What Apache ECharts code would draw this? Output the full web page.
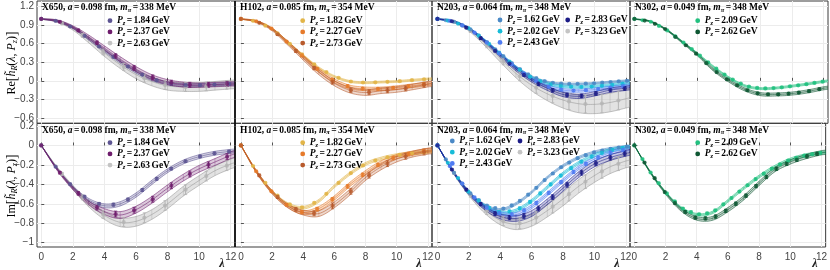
<!DOCTYPE html>
<html><head><meta charset="utf-8">
<script src="https://cdn.jsdelivr.net/npm/echarts@6/dist/echarts.min.js"></script>
<style>html,body{margin:0;padding:0;background:#fff}#c{width:830px;height:270px}</style>
</head><body><div id="c"></div>
<script>
// ---------------- DATA ----------------
const X_TICKS = [0, 2, 4, 6, 8, 10, 12];
const RE_TICKS = [-0.6, -0.3, 0, 0.3, 0.6, 0.9, 1.2];
const IM_TICKS = [-1, -0.8, -0.6, -0.4, -0.2, 0, 0.2];
const BAND_LAM = [0, 1, 2, 3, 4, 5, 6, 7, 8, 9, 10, 11, 12, 12.3];

const ENS_NAMES = ['X650', 'H102', 'N203', 'N302'];
const ENS_A = ['0.098', '0.085', '0.064', '0.049'];
const ENS_MPI = ['338', '354', '348', '348'];
const MOM_X650 = ['1.84', '2.37', '2.63'];
const MOM_H102 = ['1.82', '2.27', '2.73'];
const MOM_N203 = ['1.62', '2.02', '2.43', '2.83', '3.23'];
const MOM_N302 = ['2.09', '2.62'];

// X650
const LAM_X650_184 = [0,0.91,1.83,2.74,3.66,4.57,5.49,6.40,7.31,8.23,9.14,10.06,10.97,11.89];
const LAM_X650_237 = [0,1.18,2.35,3.53,4.71,5.88,7.06,8.24,9.41,10.59,11.77];
const LAM_X650_263 = [0,1.31,2.61,3.92,5.22,6.53,7.84,9.14,10.45,11.75];
const RE_X650_184 = [1.00,0.968,0.878,0.727,0.555,0.387,0.232,0.102,0.008,-0.047,-0.07,-0.07,-0.06,-0.05];
const RE_ERR_X650_184 = [0.003,0.006,0.01,0.012,0.015,0.015,0.015,0.015,0.015,0.015,0.015,0.015,0.015,0.015];
const RE_X650_237 = [1,0.952,0.814,0.615,0.402,0.209,0.055,-0.03,-0.064,-0.064,-0.052];
const RE_ERR_X650_237 = [0.005,0.01,0.02,0.03,0.035,0.04,0.04,0.04,0.04,0.04,0.04];
const RE_X650_263 = [1,0.929,0.734,0.467,0.225,0.042,-0.069,-0.10,-0.091,-0.065];
const RE_ERR_X650_263 = [0.005,0.015,0.03,0.045,0.055,0.065,0.07,0.07,0.07,0.07];
const IM_X650_184 = [0,-0.218,-0.398,-0.526,-0.60,-0.609,-0.556,-0.458,-0.343,-0.239,-0.162,-0.113,-0.081,-0.062];
const IM_ERR_X650_184 = [0,0.006,0.008,0.01,0.012,0.015,0.015,0.015,0.015,0.012,0.012,0.012,0.012,0.012];
const IM_X650_237 = [0,-0.28,-0.493,-0.638,-0.705,-0.666,-0.553,-0.414,-0.293,-0.199,-0.116];
const IM_ERR_X650_237 = [0,0.012,0.018,0.025,0.03,0.03,0.03,0.03,0.03,0.03,0.03];
const IM_X650_263 = [0,-0.292,-0.534,-0.71,-0.788,-0.743,-0.618,-0.455,-0.315,-0.208];
const IM_ERR_X650_263 = [0,0.015,0.025,0.04,0.045,0.05,0.05,0.05,0.05,0.05];
const RE_BAND_X650_184 = [1.00,0.965,0.86,0.68,0.49,0.31,0.15,0.03,-0.04,-0.07,-0.07,-0.06,-0.05,-0.045];
const RE_HW_X650_184 = [0.003,0.01,0.015,0.02,0.022,0.024,0.025,0.025,0.025,0.025,0.025,0.025,0.025,0.025];
const RE_BAND_X650_237 = [1,0.97,0.87,0.71,0.53,0.35,0.19,0.06,-0.02,-0.06,-0.07,-0.06,-0.05,-0.05];
const RE_HW_X650_237 = [0.003,0.015,0.02,0.03,0.035,0.04,0.04,0.04,0.04,0.04,0.035,0.035,0.035,0.035];
const RE_BAND_X650_263 = [1,0.965,0.85,0.66,0.45,0.26,0.10,-0.01,-0.08,-0.10,-0.10,-0.08,-0.06,-0.055];
const RE_HW_X650_263 = [0.005,0.015,0.03,0.045,0.055,0.06,0.065,0.07,0.07,0.07,0.07,0.07,0.07,0.07];
const IM_BAND_X650_184 = [0,-0.24,-0.43,-0.56,-0.62,-0.60,-0.51,-0.38,-0.26,-0.17,-0.115,-0.08,-0.06,-0.055];
const IM_HW_X650_184 = [0,0.008,0.012,0.016,0.02,0.022,0.022,0.022,0.02,0.02,0.02,0.02,0.02,0.02];
const IM_BAND_X650_237 = [0,-0.245,-0.44,-0.59,-0.68,-0.715,-0.66,-0.56,-0.44,-0.33,-0.24,-0.17,-0.10,-0.085];
const IM_HW_X650_237 = [0,0.01,0.015,0.02,0.03,0.035,0.035,0.035,0.035,0.035,0.035,0.035,0.035,0.035];
const IM_BAND_X650_263 = [0,-0.23,-0.43,-0.60,-0.72,-0.79,-0.78,-0.71,-0.60,-0.47,-0.36,-0.26,-0.19,-0.175];
const IM_HW_X650_263 = [0,0.01,0.02,0.03,0.04,0.045,0.05,0.05,0.05,0.05,0.05,0.05,0.05,0.05];

// H102
const LAM_H102_182 = [0,0.78,1.57,2.35,3.14,3.92,4.71,5.49,6.27,7.06,7.84,8.63,9.41,10.20,10.98,11.76];
const LAM_H102_227 = [0,0.98,1.96,2.93,3.91,4.89,5.87,6.85,7.82,8.80,9.78,10.76,11.74];
const LAM_H102_273 = [0,1.18,2.35,3.53,4.70,5.88,7.06,8.23,9.41,10.58,11.76];
const RE_H102_182 = [1,0.969,0.892,0.767,0.599,0.428,0.268,0.141,0.048,-0.011,-0.027,-0.024,-0.016,-0.006,0.010,0.025];
const RE_ERR_H102_182 = [0.003,0.005,0.006,0.008,0.01,0.01,0.01,0.01,0.01,0.01,0.01,0.01,0.01,0.01,0.01,0.01];
const RE_H102_227 = [1,0.961,0.845,0.635,0.411,0.194,0.022,-0.085,-0.125,-0.13,-0.114,-0.087,-0.058];
const RE_ERR_H102_227 = [0.003,0.008,0.012,0.015,0.02,0.02,0.02,0.02,0.02,0.02,0.02,0.02,0.02];
const RE_H102_273 = [1,0.937,0.753,0.483,0.209,-0.018,-0.152,-0.183,-0.152,-0.123,-0.064];
const RE_ERR_H102_273 = [0.005,0.012,0.02,0.025,0.03,0.035,0.035,0.04,0.04,0.04,0.04];
const IM_H102_182 = [0,-0.211,-0.384,-0.516,-0.606,-0.637,-0.59,-0.497,-0.385,-0.284,-0.206,-0.155,-0.121,-0.096,-0.08,-0.069];
const IM_ERR_H102_182 = [0,0.005,0.006,0.007,0.008,0.008,0.008,0.008,0.008,0.008,0.008,0.008,0.008,0.008,0.008,0.008];
const IM_H102_227 = [0,-0.265,-0.472,-0.61,-0.684,-0.654,-0.554,-0.421,-0.302,-0.20,-0.129,-0.088,-0.058];
const IM_ERR_H102_227 = [0,0.008,0.01,0.012,0.015,0.018,0.018,0.018,0.018,0.018,0.018,0.018,0.018];
const IM_H102_273 = [0,-0.308,-0.529,-0.657,-0.697,-0.621,-0.471,-0.305,-0.187,-0.111,-0.067];
const IM_ERR_H102_273 = [0,0.012,0.016,0.02,0.025,0.03,0.03,0.03,0.03,0.03,0.03];
const RE_BAND_H102_182 = [1,0.96,0.84,0.63,0.41,0.21,0.07,-0.01,-0.03,-0.02,-0.01,0.01,0.03,0.035];
const RE_HW_H102_182 = [0.003,0.008,0.01,0.012,0.015,0.015,0.015,0.015,0.015,0.015,0.015,0.015,0.015,0.015];
const RE_BAND_H102_227 = [1,0.96,0.84,0.62,0.39,0.17,0.00,-0.10,-0.13,-0.13,-0.11,-0.08,-0.05,-0.04];
const RE_HW_H102_227 = [0.003,0.01,0.015,0.02,0.025,0.03,0.03,0.03,0.03,0.03,0.03,0.03,0.03,0.03];
const RE_BAND_H102_273 = [1,0.96,0.83,0.61,0.37,0.14,-0.04,-0.15,-0.19,-0.16,-0.14,-0.10,-0.055,-0.045];
const RE_HW_H102_273 = [0.003,0.012,0.02,0.03,0.035,0.04,0.04,0.045,0.045,0.045,0.045,0.045,0.045,0.045];
const IM_BAND_H102_182 = [0,-0.27,-0.47,-0.60,-0.64,-0.57,-0.42,-0.29,-0.19,-0.135,-0.10,-0.08,-0.065,-0.06];
const IM_HW_H102_182 = [0,0.008,0.01,0.012,0.014,0.015,0.015,0.015,0.015,0.015,0.015,0.015,0.015,0.015];
const IM_BAND_H102_227 = [0,-0.27,-0.48,-0.62,-0.69,-0.65,-0.54,-0.40,-0.28,-0.18,-0.115,-0.08,-0.05,-0.045];
const IM_HW_H102_227 = [0,0.01,0.012,0.015,0.02,0.022,0.022,0.022,0.022,0.022,0.022,0.022,0.022,0.022];
const IM_BAND_H102_273 = [0,-0.27,-0.48,-0.62,-0.69,-0.70,-0.61,-0.48,-0.33,-0.22,-0.14,-0.09,-0.06,-0.055];
const IM_HW_H102_273 = [0,0.012,0.016,0.02,0.025,0.03,0.03,0.03,0.03,0.03,0.03,0.03,0.03,0.03];

// N203
const LAM_N203_162 = [0,0.53,1.05,1.58,2.10,2.63,3.15,3.68,4.20,4.73,5.25,5.78,6.30,6.83,7.35,7.88,8.40,8.93,9.45,9.98,10.50,11.03,11.55,12.08];
const LAM_N203_202 = [0,0.66,1.31,1.97,2.62,3.28,3.93,4.59,5.24,5.90,6.55,7.21,7.86,8.52,9.17,9.83,10.48,11.14,11.79];
const LAM_N203_243 = [0,0.79,1.58,2.36,3.15,3.94,4.73,5.52,6.30,7.09,7.88,8.67,9.46,10.24,11.03,11.82];
const LAM_N203_283 = [0,0.92,1.84,2.75,3.67,4.59,5.51,6.43,7.34,8.26,9.18,10.10,11.02,11.93];
const LAM_N203_323 = [0,1.05,2.10,3.14,4.19,5.24,6.29,7.34,8.38,9.43,10.48,11.53];
const RE_N203_162 = [1,0.979,0.955,0.896,0.831,0.730,0.627,0.510,0.398,0.287,0.190,0.105,0.043,-0.005,-0.031,-0.046,-0.05,-0.05,-0.046,-0.04,-0.03,-0.019,-0.009,0.0];
const RE_ERR_N203_162 = [0.002,0.004,0.005,0.006,0.007,0.008,0.008,0.009,0.009,0.01,0.01,0.01,0.01,0.01,0.01,0.01,0.01,0.01,0.01,0.01,0.01,0.01,0.01,0.01];
const RE_N203_202 = [1,0.974,0.926,0.853,0.732,0.598,0.455,0.310,0.179,0.067,-0.005,-0.058,-0.084,-0.095,-0.098,-0.092,-0.08,-0.066,-0.046];
const RE_ERR_N203_202 = [0.002,0.005,0.006,0.008,0.01,0.011,0.012,0.012,0.013,0.013,0.013,0.013,0.013,0.013,0.013,0.013,0.013,0.013,0.013];
const RE_N203_243 = [1,0.968,0.896,0.778,0.617,0.443,0.269,0.116,-0.006,-0.095,-0.143,-0.157,-0.151,-0.133,-0.109,-0.085];
const RE_ERR_N203_243 = [0.003,0.006,0.008,0.01,0.012,0.014,0.015,0.016,0.016,0.016,0.016,0.016,0.016,0.016,0.016,0.016];
const RE_N203_283 = [1,0.963,0.859,0.69,0.486,0.28,0.098,-0.046,-0.154,-0.228,-0.243,-0.204,-0.149,-0.122];
const RE_ERR_N203_283 = [0.003,0.01,0.015,0.02,0.02,0.025,0.025,0.03,0.03,0.03,0.03,0.03,0.03,0.03];
const RE_N203_323 = [1,0.953,0.808,0.575,0.314,0.074,-0.111,-0.244,-0.333,-0.374,-0.366,-0.318];
const RE_ERR_N203_323 = [0.005,0.015,0.025,0.04,0.055,0.07,0.09,0.11,0.13,0.145,0.15,0.15];
const IM_N203_162 = [0,-0.143,-0.281,-0.392,-0.493,-0.562,-0.618,-0.644,-0.648,-0.616,-0.57,-0.506,-0.435,-0.356,-0.288,-0.224,-0.176,-0.131,-0.10,-0.071,-0.053,-0.034,-0.022,-0.012];
const IM_ERR_N203_162 = [0,0.004,0.005,0.006,0.007,0.008,0.008,0.009,0.009,0.01,0.01,0.01,0.01,0.01,0.01,0.01,0.01,0.01,0.01,0.01,0.01,0.01,0.01,0.01];
const IM_N203_202 = [0,-0.178,-0.335,-0.474,-0.567,-0.64,-0.685,-0.678,-0.646,-0.58,-0.493,-0.401,-0.31,-0.233,-0.166,-0.114,-0.076,-0.046,-0.026];
const IM_ERR_N203_202 = [0,0.005,0.006,0.008,0.01,0.011,0.012,0.012,0.013,0.013,0.013,0.013,0.013,0.013,0.013,0.013,0.013,0.013,0.013];
const IM_N203_243 = [0,-0.213,-0.392,-0.534,-0.641,-0.696,-0.707,-0.668,-0.591,-0.487,-0.377,-0.273,-0.189,-0.124,-0.074,-0.046];
const IM_ERR_N203_243 = [0,0.006,0.008,0.01,0.012,0.014,0.015,0.016,0.016,0.016,0.016,0.016,0.016,0.016,0.016,0.016];
const IM_N203_283 = [0,-0.248,-0.455,-0.603,-0.70,-0.742,-0.725,-0.648,-0.532,-0.404,-0.28,-0.184,-0.124,-0.083];
const IM_ERR_N203_283 = [0,0.008,0.012,0.016,0.02,0.022,0.025,0.025,0.025,0.025,0.025,0.025,0.025,0.025];
const IM_N203_323 = [0,-0.281,-0.507,-0.675,-0.778,-0.80,-0.741,-0.629,-0.501,-0.373,-0.267,-0.188];
const IM_ERR_N203_323 = [0,0.015,0.025,0.035,0.045,0.055,0.06,0.065,0.07,0.07,0.07,0.07];
const RE_BAND_N203_162 = [1,0.96,0.85,0.66,0.44,0.23,0.07,-0.02,-0.05,-0.05,-0.04,-0.02,0.0,0.005];
const RE_HW_N203_162 = [0.003,0.006,0.008,0.01,0.012,0.013,0.014,0.015,0.015,0.015,0.015,0.015,0.015,0.015];
const RE_BAND_N203_202 = [1,0.96,0.85,0.66,0.44,0.22,0.05,-0.05,-0.09,-0.10,-0.09,-0.07,-0.04,-0.035];
const RE_HW_N203_202 = [0.003,0.008,0.01,0.013,0.015,0.017,0.018,0.02,0.02,0.02,0.02,0.02,0.02,0.02];
const RE_BAND_N203_243 = [1,0.96,0.85,0.65,0.43,0.21,0.03,-0.09,-0.15,-0.16,-0.14,-0.11,-0.08,-0.07];
const RE_HW_N203_243 = [0.003,0.01,0.012,0.016,0.02,0.022,0.025,0.025,0.025,0.025,0.025,0.025,0.025,0.025];
const RE_BAND_N203_283 = [1,0.96,0.84,0.64,0.41,0.19,0.01,-0.12,-0.22,-0.25,-0.21,-0.15,-0.12,-0.11];
const RE_HW_N203_283 = [0.003,0.012,0.015,0.02,0.025,0.03,0.03,0.035,0.035,0.035,0.035,0.035,0.035,0.035];
const RE_BAND_N203_323 = [1,0.96,0.83,0.61,0.36,0.12,-0.07,-0.21,-0.31,-0.37,-0.38,-0.35,-0.29,-0.27];
const RE_HW_N203_323 = [0.005,0.015,0.025,0.04,0.055,0.07,0.09,0.11,0.13,0.145,0.15,0.15,0.15,0.15];
const IM_BAND_N203_162 = [0,-0.27,-0.48,-0.61,-0.66,-0.60,-0.48,-0.33,-0.21,-0.125,-0.07,-0.035,-0.012,-0.008];
const IM_HW_N203_162 = [0,0.006,0.008,0.01,0.012,0.013,0.013,0.013,0.013,0.013,0.013,0.013,0.013,0.013];
const IM_BAND_N203_202 = [0,-0.27,-0.48,-0.62,-0.69,-0.67,-0.57,-0.43,-0.29,-0.18,-0.10,-0.05,-0.02,-0.015];
const IM_HW_N203_202 = [0,0.007,0.01,0.012,0.015,0.016,0.016,0.016,0.016,0.016,0.016,0.016,0.016,0.016];
const IM_BAND_N203_243 = [0,-0.27,-0.48,-0.63,-0.70,-0.71,-0.63,-0.50,-0.36,-0.23,-0.14,-0.075,-0.04,-0.035];
const IM_HW_N203_243 = [0,0.008,0.012,0.015,0.018,0.02,0.02,0.02,0.02,0.02,0.02,0.02,0.02,0.02];
const IM_BAND_N203_283 = [0,-0.27,-0.49,-0.64,-0.73,-0.75,-0.70,-0.58,-0.44,-0.30,-0.19,-0.125,-0.08,-0.07];
const IM_HW_N203_283 = [0,0.01,0.015,0.02,0.025,0.03,0.03,0.03,0.03,0.03,0.03,0.03,0.03,0.03];
const IM_BAND_N203_323 = [0,-0.27,-0.49,-0.66,-0.77,-0.81,-0.77,-0.67,-0.55,-0.42,-0.31,-0.22,-0.16,-0.15];
const IM_HW_N203_323 = [0,0.015,0.025,0.035,0.045,0.055,0.06,0.065,0.07,0.07,0.07,0.07,0.07,0.07];

// N302
const LAM_N302_209 = [0,0.52,1.04,1.56,2.08,2.59,3.11,3.63,4.15,4.67,5.19,5.71,6.23,6.74,7.26,7.78,8.30,8.82,9.34,9.86,10.38,10.90,11.41,11.93];
const LAM_N302_262 = [0,0.65,1.30,1.95,2.60,3.26,3.91,4.56,5.21,5.86,6.51,7.16,7.81,8.47,9.12,9.77,10.42,11.07,11.72];
const RE_N302_209 = [1,0.979,0.955,0.887,0.815,0.718,0.618,0.514,0.409,0.299,0.196,0.102,0.020,-0.046,-0.092,-0.115,-0.122,-0.117,-0.105,-0.089,-0.072,-0.054,-0.034,-0.013];
const RE_ERR_N302_209 = [0.002,0.004,0.005,0.006,0.007,0.008,0.008,0.009,0.009,0.01,0.01,0.01,0.01,0.01,0.01,0.01,0.01,0.01,0.01,0.01,0.01,0.01,0.01,0.01];
const RE_N302_262 = [1,0.974,0.921,0.837,0.71,0.575,0.439,0.286,0.142,0.025,-0.071,-0.152,-0.201,-0.217,-0.218,-0.208,-0.19,-0.167,-0.134];
const RE_ERR_N302_262 = [0.002,0.005,0.006,0.008,0.01,0.012,0.013,0.014,0.015,0.015,0.016,0.016,0.016,0.016,0.016,0.016,0.016,0.016,0.016];
const IM_N302_209 = [0,-0.14,-0.278,-0.388,-0.493,-0.574,-0.648,-0.684,-0.707,-0.697,-0.667,-0.605,-0.54,-0.474,-0.409,-0.346,-0.29,-0.238,-0.195,-0.156,-0.128,-0.105,-0.09,-0.077];
const IM_ERR_N302_209 = [0,0.004,0.005,0.006,0.007,0.008,0.009,0.01,0.01,0.01,0.01,0.01,0.01,0.01,0.01,0.01,0.01,0.01,0.01,0.01,0.01,0.01,0.01,0.01];
const IM_N302_262 = [0,-0.176,-0.336,-0.479,-0.592,-0.683,-0.742,-0.75,-0.731,-0.673,-0.599,-0.516,-0.418,-0.324,-0.24,-0.188,-0.147,-0.112,-0.086];
const IM_ERR_N302_262 = [0,0.006,0.008,0.01,0.012,0.014,0.015,0.016,0.017,0.017,0.017,0.017,0.017,0.017,0.017,0.017,0.017,0.017,0.017];
const RE_BAND_N302_209 = [1,0.96,0.83,0.64,0.44,0.23,0.05,-0.08,-0.125,-0.115,-0.085,-0.05,-0.01,0.0];
const RE_HW_N302_209 = [0.003,0.006,0.008,0.01,0.012,0.014,0.015,0.016,0.016,0.016,0.016,0.016,0.016,0.016];
const RE_BAND_N302_262 = [1,0.96,0.83,0.63,0.42,0.18,0.0,-0.14,-0.215,-0.22,-0.205,-0.17,-0.12,-0.11];
const RE_HW_N302_262 = [0.003,0.008,0.01,0.014,0.017,0.02,0.022,0.024,0.025,0.025,0.025,0.025,0.025,0.025];
const IM_BAND_N302_209 = [0,-0.27,-0.48,-0.64,-0.71,-0.69,-0.57,-0.44,-0.32,-0.22,-0.145,-0.10,-0.075,-0.07];
const IM_HW_N302_209 = [0,0.006,0.008,0.01,0.012,0.013,0.014,0.015,0.015,0.015,0.015,0.015,0.015,0.015];
const IM_BAND_N302_262 = [0,-0.27,-0.49,-0.66,-0.75,-0.75,-0.66,-0.54,-0.39,-0.25,-0.17,-0.115,-0.075,-0.07];
const IM_HW_N302_262 = [0,0.008,0.012,0.015,0.018,0.02,0.022,0.022,0.022,0.022,0.022,0.022,0.022,0.022];

// ---------------- TABLE (built from the arrays above) ----------------
const PANELS = [
  { moms: MOM_X650, sets: [
    { lam: LAM_X650_184, re: [RE_X650_184, RE_ERR_X650_184, RE_BAND_X650_184, RE_HW_X650_184], im: [IM_X650_184, IM_ERR_X650_184, IM_BAND_X650_184, IM_HW_X650_184] },
    { lam: LAM_X650_237, re: [RE_X650_237, RE_ERR_X650_237, RE_BAND_X650_237, RE_HW_X650_237], im: [IM_X650_237, IM_ERR_X650_237, IM_BAND_X650_237, IM_HW_X650_237] },
    { lam: LAM_X650_263, re: [RE_X650_263, RE_ERR_X650_263, RE_BAND_X650_263, RE_HW_X650_263], im: [IM_X650_263, IM_ERR_X650_263, IM_BAND_X650_263, IM_HW_X650_263] } ] },
  { moms: MOM_H102, sets: [
    { lam: LAM_H102_182, re: [RE_H102_182, RE_ERR_H102_182, RE_BAND_H102_182, RE_HW_H102_182], im: [IM_H102_182, IM_ERR_H102_182, IM_BAND_H102_182, IM_HW_H102_182] },
    { lam: LAM_H102_227, re: [RE_H102_227, RE_ERR_H102_227, RE_BAND_H102_227, RE_HW_H102_227], im: [IM_H102_227, IM_ERR_H102_227, IM_BAND_H102_227, IM_HW_H102_227] },
    { lam: LAM_H102_273, re: [RE_H102_273, RE_ERR_H102_273, RE_BAND_H102_273, RE_HW_H102_273], im: [IM_H102_273, IM_ERR_H102_273, IM_BAND_H102_273, IM_HW_H102_273] } ] },
  { moms: MOM_N203, sets: [
    { lam: LAM_N203_162, re: [RE_N203_162, RE_ERR_N203_162, RE_BAND_N203_162, RE_HW_N203_162], im: [IM_N203_162, IM_ERR_N203_162, IM_BAND_N203_162, IM_HW_N203_162] },
    { lam: LAM_N203_202, re: [RE_N203_202, RE_ERR_N203_202, RE_BAND_N203_202, RE_HW_N203_202], im: [IM_N203_202, IM_ERR_N203_202, IM_BAND_N203_202, IM_HW_N203_202] },
    { lam: LAM_N203_243, re: [RE_N203_243, RE_ERR_N203_243, RE_BAND_N203_243, RE_HW_N203_243], im: [IM_N203_243, IM_ERR_N203_243, IM_BAND_N203_243, IM_HW_N203_243] },
    { lam: LAM_N203_283, re: [RE_N203_283, RE_ERR_N203_283, RE_BAND_N203_283, RE_HW_N203_283], im: [IM_N203_283, IM_ERR_N203_283, IM_BAND_N203_283, IM_HW_N203_283] },
    { lam: LAM_N203_323, re: [RE_N203_323, RE_ERR_N203_323, RE_BAND_N203_323, RE_HW_N203_323], im: [IM_N203_323, IM_ERR_N203_323, IM_BAND_N203_323, IM_HW_N203_323] } ] },
  { moms: MOM_N302, sets: [
    { lam: LAM_N302_209, re: [RE_N302_209, RE_ERR_N302_209, RE_BAND_N302_209, RE_HW_N302_209], im: [IM_N302_209, IM_ERR_N302_209, IM_BAND_N302_209, IM_HW_N302_209] },
    { lam: LAM_N302_262, re: [RE_N302_262, RE_ERR_N302_262, RE_BAND_N302_262, RE_HW_N302_262], im: [IM_N302_262, IM_ERR_N302_262, IM_BAND_N302_262, IM_HW_N302_262] } ] }
];

// ---------------- STYLE / LAYOUT ----------------
const COLORS = [
  ['#5d5592', '#6e1c6c', '#b9b9b9'],
  ['#e2b548', '#e67a2a', '#b85a2c'],
  ['#4a89c6', '#17bcd8', '#4f7bf2', '#1b1b86', '#b9b9b9'],
  ['#22c07f', '#0e5733']
];
const FADED = [[false, false, true], [false, false, false], [false, false, false, false, true], [false, false]];
const COL_L = [37, 235, 432, 630];
const COL_R = [235, 432, 630, 828];
const X_MIN = [-0.27, -0.38, -0.35, -0.28];
const X_MAX = 12.27;
const ROW_T = [1, 123.3];
const ROW_B = [123.3, 247];
const Y_RANGE = [[-0.686, 1.29], [-1.044, 0.228]];
const LEGEND = [
  [{x:110,y:20.7},{x:302.7,y:20.7},{x:500,y:20,x2:567.7},{x:697.7,y:20.7}],
  [{x:110,y:142.7},{x:302.7,y:142.7},{x:452.3,y:141,x2:520},{x:697.7,y:142.7}]
];
const SERIF = "'Liberation Serif', 'DejaVu Serif', serif";
const SANS = "'Liberation Sans', Arial, sans-serif";
const FS = 9.5;

function rgba(hex, a) {
  const n = parseInt(hex.slice(1), 16);
  return 'rgba(' + ((n >> 16) & 255) + ',' + ((n >> 8) & 255) + ',' + (n & 255) + ',' + a + ')';
}
function smoothPts(pts, seg) {
  const n = pts.length, m = [];
  for (let i = 0; i < n; i++) {
    const a = pts[Math.max(i - 1, 0)], b = pts[Math.min(i + 1, n - 1)];
    m.push((b[1] - a[1]) / (b[0] - a[0]));
  }
  const out = [];
  for (let i = 0; i < n - 1; i++) {
    const p = pts[i], q = pts[i + 1], h = q[0] - p[0];
    for (let k = 0; k < seg; k++) {
      const t = k / seg, t2 = t * t, t3 = t2 * t;
      out.push([p[0] + t * h, (2*t3 - 3*t2 + 1) * p[1] + (t3 - 2*t2 + t) * h * m[i] + (-2*t3 + 3*t2) * q[1] + (t3 - t2) * h * m[i + 1]]);
    }
  }
  out.push(pts[n - 1]);
  return out;
}
function fmt(v) {
  const s = String(Math.round(v * 10) / 10);
  return s.replace('-', '\u2212');
}
function txtRich(clr) {
  return {
    b: { fontFamily: SERIF, fontWeight: 'bold', fontSize: FS, color: clr, lineHeight: 12 },
    i: { fontFamily: SERIF, fontWeight: 'bold', fontStyle: 'italic', fontSize: FS, color: clr, lineHeight: 12 },
    s: { fontFamily: SERIF, fontWeight: 'bold', fontStyle: 'italic', fontSize: 6.5, color: clr, lineHeight: 7, verticalAlign: 'bottom' },
    sp: { fontFamily: SERIF, fontSize: 5.5, color: clr, lineHeight: 12 }
  };
}

const grids = [], xAxes = [], yAxes = [], series = [], graphics = [];
for (let row = 0; row < 2; row++) {
  for (let col = 0; col < 4; col++) {
    const gi = row * 4 + col;
    grids.push({ left: COL_L[col], top: ROW_T[row], width: COL_R[col] - COL_L[col], height: ROW_B[row] - ROW_T[row],
      show: true, borderColor: '#3a3a3a', borderWidth: 1, backgroundColor: 'transparent', containLabel: false });
    xAxes.push({ type: 'value', gridIndex: gi, min: X_MIN[col], max: X_MAX,
      axisLine: { show: false },
      axisTick: { show: true, inside: true, length: 3, customValues: X_TICKS, lineStyle: { color: '#555' } },
      axisLabel: { show: row === 1, customValues: X_TICKS, margin: 5, fontSize: 10, color: '#444', fontFamily: SANS },
      splitLine: { show: true, lineStyle: { color: '#ececec', width: 1 } } });
    const ticks = row === 0 ? RE_TICKS : IM_TICKS;
    yAxes.push({ type: 'value', gridIndex: gi, min: Y_RANGE[row][0], max: Y_RANGE[row][1],
      axisLine: { show: false },
      axisTick: { show: true, inside: true, length: 3, customValues: ticks, lineStyle: { color: '#555' } },
      axisLabel: { show: col === 0, customValues: ticks, margin: 3, fontSize: 10, color: '#444', fontFamily: SANS, formatter: fmt },
      splitLine: { show: true, lineStyle: { color: '#ececec', width: 1 } } });

    const panel = PANELS[col];
    const part = row === 0 ? 're' : 'im';
    const order = panel.sets.map((s, i) => i).sort((a, b) => (FADED[col][b] ? 1 : 0) - (FADED[col][a] ? 1 : 0));
    order.forEach((k, oi) => {
      const set = panel.sets[k];
      const color = COLORS[col][k];
      const faded = FADED[col][k];
      const c = set[part][2], hw = set[part][3];
      series.push({
        type: 'custom', xAxisIndex: gi, yAxisIndex: gi, z: 2 + oi * 0.01, silent: true, clip: true,
        data: [[BAND_LAM[0], c[0]]],
        renderItem: function (params, api) {
          const up = [], lo = [], mid = [];
          for (let i = 0; i < BAND_LAM.length; i++) {
            up.push(api.coord([BAND_LAM[i], c[i] + hw[i]]));
            lo.push(api.coord([BAND_LAM[i], c[i] - hw[i]]));
            mid.push(api.coord([BAND_LAM[i], c[i]]));
          }
          const U = smoothPts(up, 8), L = smoothPts(lo, 8), M = smoothPts(mid, 8);
          const lineCol = faded ? 'rgba(150,150,150,0.8)' : rgba(color, 0.8);
          const children = [{ type: 'polygon', shape: { points: U.concat(L.slice().reverse()) },
            style: { fill: faded ? 'rgba(185,185,185,0.42)' : rgba(color, 0.24) } }];
          for (let i = 1; i < BAND_LAM.length - 1; i++) {
            children.push({ type: 'line', shape: { x1: up[i][0], y1: up[i][1], x2: lo[i][0], y2: lo[i][1] },
              style: { stroke: faded ? 'rgba(150,150,150,0.5)' : rgba(color, 0.45), lineWidth: 0.6 } });
          }
          [U, M, L].forEach(P => children.push({ type: 'polyline', shape: { points: P },
            style: { stroke: lineCol, lineWidth: 0.7, fill: null } }));
          return { type: 'group', children: children };
        }
      });
    });
    order.forEach((k, oi) => {
      const set = panel.sets[k];
      const color = FADED[col][k] ? '#b4b4b4' : COLORS[col][k];
      const y = set[part][0], e = set[part][1];
      const pts = set.lam.map((l, i) => [l, y[i], e[i]]);
      series.push({
        type: 'custom', xAxisIndex: gi, yAxisIndex: gi, z: 5 + oi * 0.01, silent: true, clip: true,
        dimensions: ['x', 'y', 'e'], encode: { x: 0, y: 1 }, data: pts,
        renderItem: function (params, api) {
          const x = api.value(0), v = api.value(1), er = api.value(2);
          const a = api.coord([x, v - er]), b = api.coord([x, v + er]);
          return { type: 'group', children: [
            { type: 'line', shape: { x1: a[0], y1: a[1], x2: b[0], y2: b[1] }, style: { stroke: color, lineWidth: 1 } },
            { type: 'line', shape: { x1: a[0] - 1.6, y1: a[1], x2: a[0] + 1.6, y2: a[1] }, style: { stroke: color, lineWidth: 0.8 } },
            { type: 'line', shape: { x1: b[0] - 1.6, y1: b[1], x2: b[0] + 1.6, y2: b[1] }, style: { stroke: color, lineWidth: 0.8 } }
          ] };
        }
      });
      series.push({ type: 'scatter', xAxisIndex: gi, yAxisIndex: gi, z: 6 + oi * 0.01, silent: true,
        symbol: 'circle', symbolSize: 4.2, itemStyle: { color: color }, data: set.lam.map((l, i) => [l, y[i]]) });
    });

    // title
    graphics.push({ type: 'text', x: COL_L[col] + 5, y: ROW_T[row] + 7, z: 100,
      style: { text: '{b|' + ENS_NAMES[col] + ', }{i|a}{sp| }{b|=}{sp| }{b|' + ENS_A[col] + ' fm, }{i|m}{s|\u03c0}{sp| }{b|=}{sp| }{b|' + ENS_MPI[col] + ' MeV}',
        rich: txtRich('#111'), align: 'left', verticalAlign: 'middle', textAlign: 'left', textVerticalAlign: 'middle' } });
    // legend
    const lg = LEGEND[row][col];
    panel.moms.forEach((p, k) => {
      const colIdx = k < 3 ? 0 : 1, r = k < 3 ? k : k - 3;
      const mx = colIdx === 0 ? lg.x : lg.x2, my = lg.y + r * 11.2;
      const faded = FADED[col][k];
      graphics.push({ type: 'circle', z: 100, shape: { cx: mx, cy: my, r: 2.4 },
        style: { fill: faded ? '#c4c4c4' : COLORS[col][k] } });
      graphics.push({ type: 'text', x: mx + 7, y: my, z: 100,
        style: { text: '{i|P}{s|z}{sp| }{b|=}{sp| }{b|' + p + '}{sp| }{b|GeV}', rich: txtRich(faded ? '#c0c0c0' : '#111'),
          align: 'left', verticalAlign: 'middle', textAlign: 'left', textVerticalAlign: 'middle' } });
    });
    if (row === 1) {
      graphics.push({ type: 'text', x: COL_R[col] - 13, y: 264, z: 100,
        style: { text: '\u03bb', font: 'bold italic 12px ' + SERIF, fill: '#222', align: 'center', verticalAlign: 'middle', textAlign: 'center', textVerticalAlign: 'middle' } });
    }
  }
}
// y axis titles
const yRich = {
  r: { fontFamily: SERIF, fontSize: 12, color: '#222', lineHeight: 14 },
  br: { fontFamily: SERIF, fontSize: 14, color: '#222', lineHeight: 14 },
  i: { fontFamily: SERIF, fontSize: 12, fontStyle: 'italic', color: '#222', lineHeight: 14 },
  s: { fontFamily: SERIF, fontSize: 8, fontStyle: 'italic', color: '#222', lineHeight: 8, verticalAlign: 'bottom' }
};
['Re', 'Im'].forEach((w, row) => {
  graphics.push({ type: 'text', x: 12, y: row === 0 ? 63 : 186, rotation: Math.PI / 2, z: 100,
    style: { text: '{r|' + w + '}{br|[}{i|h\u0303}{s|R}{r|(}{i|\u03bb}{r|, }{i|P}{s|z}{r|)}{br|]}', rich: yRich,
      align: 'center', verticalAlign: 'middle', textAlign: 'center', textVerticalAlign: 'middle' } });
});
// darker divider between first two columns (as in the reference)
graphics.push({ type: 'line', z: 99, shape: { x1: 235, y1: 1, x2: 235, y2: 247 }, style: { stroke: '#000', lineWidth: 1.4 } });

const chart = echarts.init(document.getElementById('c'), null, { renderer: 'canvas' });
chart.setOption({
  animation: false, backgroundColor: '#fff',
  grid: grids, xAxis: xAxes, yAxis: yAxes, series: series,
  graphic: { elements: graphics }
});
</script></body></html>
